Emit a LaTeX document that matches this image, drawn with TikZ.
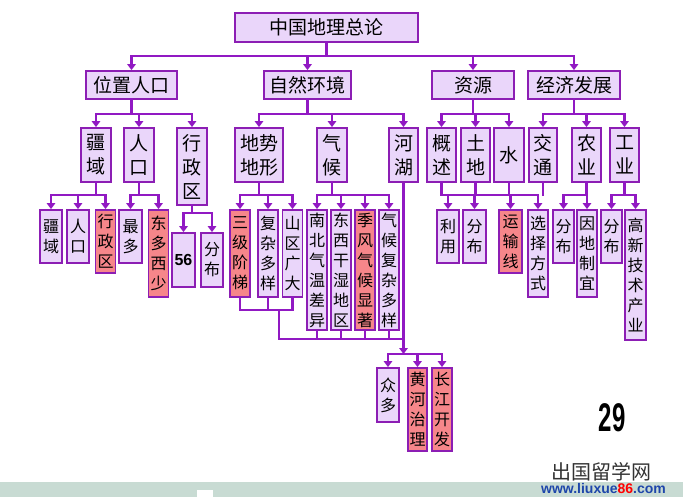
\documentclass[tikz,border=0pt]{standalone}
\usepackage{fontspec}
\newfontfamily\cjk{Noto Sans CJK SC}
\newfontfamily\arialf{Liberation Sans}
\usetikzlibrary{arrows.meta}
\definecolor{lnpurple}{RGB}{145,25,195}
\definecolor{bdpurple}{RGB}{140,30,180}
\definecolor{boxfill}{RGB}{234,214,250}
\definecolor{boxred}{RGB}{246,134,138}
\definecolor{bandgreen}{RGB}{200,219,211}
\definecolor{urlblue}{RGB}{30,70,170}

\begin{document}
\begin{tikzpicture}[x=1pt, y=-1pt,
  box/.style={draw=bdpurple, line width=1.8pt, fill=boxfill, inner sep=0pt, align=center},
  redbox/.style={box, fill=boxred},
  lvtop/.style={font=\cjk\fontsize{19}{24}\selectfont},
  lvlow/.style={font=\cjk\fontsize{16}{20}\selectfont},
  link/.style={draw=lnpurple, line width=2.8pt, line cap=rect},
  arr/.style={draw=lnpurple, line width=2.8pt, -{Triangle[width=8.5pt,length=6pt]}}]
\useasboundingbox (0,0) rectangle (683,497);
\fill[white] (0,0) rectangle (683,497);
\fill[bandgreen] (0,482) rectangle (683,497);
\fill[white] (197,490) rectangle (213,497);

\node[box, lvtop, minimum width=183, minimum height=29] (root) at (326.5,27.5) {中国地理总论};

\node[box, lvtop, minimum width=91, minimum height=28] (weizhi) at (131.5,85) {位置人口};
\node[box, lvtop, minimum width=87, minimum height=28] (ziran) at (307.5,85) {自然环境};
\node[box, lvtop, minimum width=82, minimum height=28] (ziyuan) at (473,85) {资源};
\node[box, lvtop, minimum width=92, minimum height=28] (jingji) at (574,85) {经济发展};

\node[box, lvtop, minimum width=30, minimum height=54] (jiangyu) at (96,155) {疆\\域};
\node[box, lvtop, minimum width=30, minimum height=54] (renkou) at (139,155) {人\\口};
\node[box, lvtop, minimum width=30, minimum height=77] (xingzheng) at (192,166.5) {行\\政\\区};
\node[box, lvtop, minimum width=48, minimum height=54] (dishi) at (259,155) {地势\\地形};
\node[box, lvtop, minimum width=30, minimum height=54] (qihou) at (332,155) {气\\候};
\node[box, lvtop, minimum width=29, minimum height=54] (hehu) at (403.5,155) {河\\湖};
\node[box, lvtop, minimum width=29, minimum height=54] (gaishu) at (441.5,155) {概\\述};
\node[box, lvtop, minimum width=29, minimum height=54] (tudi) at (475.5,155) {土\\地};
\node[box, lvtop, minimum width=30, minimum height=54] (shui) at (509,155) {水};
\node[box, lvtop, minimum width=28, minimum height=54] (jiaotong) at (543,155) {交\\通};
\node[box, lvtop, minimum width=29, minimum height=54] (nongye) at (586.5,155) {农\\业};
\node[box, lvtop, minimum width=29, minimum height=54] (gongye) at (624.5,155) {工\\业};

\node[box, lvlow, minimum width=22, minimum height=53] (jy) at (51,236.5) {疆\\域};
\node[box, lvlow, minimum width=22, minimum height=53] (rk) at (78,236.5) {人\\口};
\node[redbox, lvlow, minimum width=20, minimum height=63] (xzq) at (105.5,241.5) {行\\政\\区};
\node[box, lvlow, minimum width=23, minimum height=53] (zuiduo) at (130.5,236.5) {最\\多};
\node[redbox, lvlow, minimum width=20, minimum height=87] (dongduo) at (158.5,253.5) {东\\多\\西\\少};
\node[box, font=\arialf\bfseries\fontsize{16}{20}\selectfont, minimum width=23, minimum height=54] (minzu) at (183.5,260) {56};
\node[box, lvlow, minimum width=22, minimum height=54] (fenbuA) at (212,260) {分\\布};
\node[redbox, lvlow, minimum width=20, minimum height=87] (sanji) at (240,253.5) {三\\级\\阶\\梯};
\node[box, lvlow, minimum width=20, minimum height=87] (fuza) at (268,253.5) {复\\杂\\多\\样};
\node[box, lvlow, minimum width=20, minimum height=87] (shanqu) at (292.5,253.5) {山\\区\\广\\大};
\node[box, lvlow, minimum width=20, minimum height=120] (nanbei) at (317,270) {南\\北\\气\\温\\差\\异};
\node[box, lvlow, minimum width=20, minimum height=120] (dongxi) at (341,270) {东\\西\\干\\湿\\地\\区};
\node[redbox, lvlow, minimum width=20, minimum height=120] (jifeng) at (365,270) {季\\风\\气\\候\\显\\著};
\node[box, lvlow, minimum width=20, minimum height=120] (qhfz) at (389,270) {气\\候\\复\\杂\\多\\样};
\node[box, lvlow, minimum width=22, minimum height=53] (liyong) at (448,236.5) {利\\用};
\node[box, lvlow, minimum width=23, minimum height=53] (fenbuB) at (474.5,236.5) {分\\布};
\node[redbox, lvlow, minimum width=23, minimum height=63] (yunshu) at (510.5,241.5) {运\\输\\线};
\node[box, lvlow, minimum width=20, minimum height=87] (xuanze) at (538,253.5) {选\\择\\方\\式};
\node[box, lvlow, minimum width=21, minimum height=53] (fenbuC) at (563.5,236.5) {分\\布};
\node[box, lvlow, minimum width=20, minimum height=87] (yindi) at (587,253.5) {因\\地\\制\\宜};
\node[box, lvlow, minimum width=21, minimum height=53] (fenbuD) at (611.5,236.5) {分\\布};
\node[box, lvlow, minimum width=21, minimum height=130] (gaoxin) at (635.5,275) {高\\新\\技\\术\\产\\业};
\node[box, lvlow, minimum width=22, minimum height=54] (zhongduo) at (388,395) {众\\多};
\node[redbox, lvlow, minimum width=19, minimum height=83] (huanghe) at (417.5,409.5) {黄\\河\\治\\理};
\node[redbox, lvlow, minimum width=20, minimum height=83] (changjiang) at (442,409.5) {长\\江\\开\\发};

\coordinate (b0) at (0,56);
\coordinate (b1) at (0,114);
\coordinate (b2) at (0,195);
\coordinate (b3) at (0,213);
\coordinate (b4) at (0,310);
\coordinate (b5) at (0,339);
\coordinate (b6) at (0,354);
\coordinate (m1) at (279,310);

\draw[link] (root.south) -- (root.south |- b0);
\draw[link] (weizhi.north |- b0) -- (jingji.north |- b0);
\foreach \n in {weizhi,ziran,ziyuan,jingji}
  \draw[arr] (\n.north |- b0) -- (\n.north);

\foreach \p/\a/\z in {weizhi/jiangyu/xingzheng, ziran/dishi/hehu, ziyuan/gaishu/shui, jingji/jiaotong/gongye}{
  \draw[link] (\p.south) -- (\p.south |- b1);
  \draw[link] (\a.north |- b1) -- (\z.north |- b1);
}
\foreach \n in {jiangyu,renkou,xingzheng,dishi,qihou,hehu,gaishu,tudi,shui,jiaotong,nongye,gongye}
  \draw[arr] (\n.north |- b1) -- (\n.north);

\foreach \p/\a/\z in {jiangyu/jy/xzq, renkou/zuiduo/dongduo, dishi/sanji/shanqu, qihou/nanbei/qhfz, jiaotong/yunshu/xuanze, nongye/fenbuC/yindi, gongye/fenbuD/gaoxin}{
  \draw[link] (\p.south) -- (\p.south |- b2);
  \draw[link] (\a.north |- b2) -- (\z.north |- b2);
}
\foreach \n in {gaishu,tudi,shui}
  \draw[link] (\n.south) -- (\n.south |- b2);
\draw[link] (gaishu.south |- b2) -- (shui.south |- b2);
\foreach \n in {jy,rk,xzq,zuiduo,dongduo,sanji,fuza,shanqu,nanbei,dongxi,jifeng,qhfz,liyong,fenbuB,yunshu,xuanze,fenbuC,yindi,fenbuD,gaoxin}
  \draw[arr] (\n.north |- b2) -- (\n.north);

\draw[link] (xingzheng.south) -- (xingzheng.south |- b3);
\draw[link] (minzu.north |- b3) -- (fenbuA.north |- b3);
\foreach \n in {minzu,fenbuA}
  \draw[arr] (\n.north |- b3) -- (\n.north);

\foreach \n in {sanji,fuza,shanqu}
  \draw[link] (\n.south) -- (\n.south |- b4);
\draw[link] (sanji.south |- b4) -- (shanqu.south |- b4);
\draw[link] (m1) -- (m1 |- b5) -- (hehu.south |- b5);
\foreach \n in {nanbei,dongxi,jifeng,qhfz}
  \draw[link] (\n.south) -- (\n.south |- b5);
\draw[arr] (hehu.south) -- (hehu.south |- b6);
\draw[link] (zhongduo.north |- b6) -- (changjiang.north |- b6);
\foreach \n in {zhongduo,huanghe,changjiang}
  \draw[arr] (\n.north |- b6) -- (\n.north);

\node[font=\arialf\bfseries\fontsize{40}{40}\selectfont, xscale=0.6] (page) at (612,418) {29};
\node[font=\cjk\fontsize{20}{20}\selectfont, text=black!80] (wmark) at (601.5,472) {出国留学网};
\node[font=\arialf\bfseries\fontsize{14}{14}\selectfont, text=urlblue] (wurl) at (603.5,488) {www.liuxue\textcolor{red}{86}.com};
\end{tikzpicture}
\end{document}
